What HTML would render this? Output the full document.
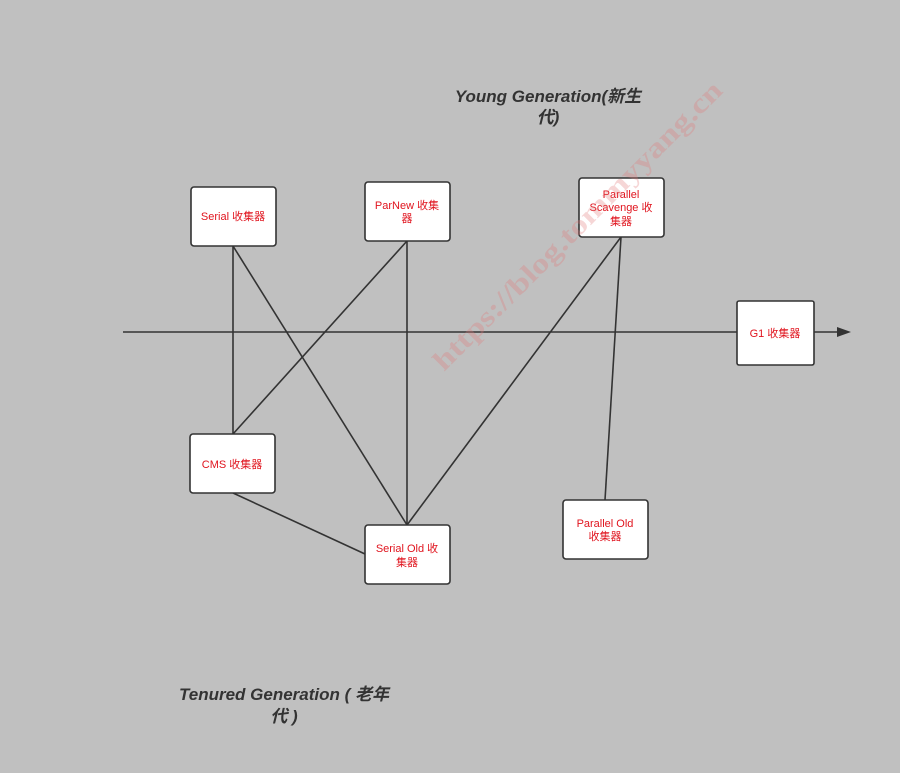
<!DOCTYPE html>
<html><head><meta charset="utf-8"><style>
html,body{margin:0;padding:0;background:#c0c0c0;}
svg{display:block;}
</style></head><body>
<svg width="900" height="773" viewBox="0 0 900 773" xmlns="http://www.w3.org/2000/svg">
<rect width="900" height="773" fill="#c0c0c0"/>
<g stroke="#333" stroke-width="1.6" fill="none">
<line x1="123" y1="332" x2="737" y2="332"/>
<line x1="814" y1="332" x2="840" y2="332"/>
<line x1="233" y1="246" x2="233" y2="434"/>
<line x1="233" y1="246" x2="407" y2="525"/>
<line x1="407" y1="241" x2="233" y2="434"/>
<line x1="407" y1="241" x2="407" y2="525"/>
<line x1="621" y1="237" x2="407" y2="525"/>
<line x1="621" y1="237" x2="605" y2="500"/>
<line x1="233" y1="493" x2="365" y2="554"/>
</g>
<polygon points="851,332 837,327 837,337" fill="#333"/>
<g fill="#fff" stroke="#333" stroke-width="1.6">
<rect x="191" y="187" width="85" height="59" rx="3"/>
<rect x="365" y="182" width="85" height="59" rx="3"/>
<rect x="579" y="178" width="85" height="59" rx="3"/>
<rect x="737" y="301" width="77" height="64" rx="2"/>
<rect x="190" y="434" width="85" height="59" rx="3"/>
<rect x="365" y="525" width="85" height="59" rx="3"/>
<rect x="563" y="500" width="85" height="59" rx="3"/>
</g>
<g fill="#e0141e" font-family="Liberation Sans, Noto Sans CJK SC, sans-serif" font-size="11" text-anchor="middle">
<text x="233" y="220">Serial 收集器</text>
<text x="407" y="209">ParNew 收集</text><text x="407" y="222">器</text>
<text x="621" y="198">Parallel</text><text x="621" y="211">Scavenge 收</text><text x="621" y="225">集器</text>
<text x="775" y="337">G1 收集器</text>
<text x="232" y="468">CMS 收集器</text>
<text x="407" y="552">Serial Old 收</text><text x="407" y="566">集器</text>
<text x="605" y="527">Parallel Old</text><text x="605" y="540">收集器</text>
</g>
<g fill="#333" font-family="Liberation Sans, Noto Sans CJK SC, sans-serif" font-size="17" font-weight="bold" font-style="italic" text-anchor="middle">
<text x="548" y="102">Young Generation(新生</text>
<text x="548" y="123">代)</text>
<text x="284" y="700">Tenured Generation ( 老年</text>
<text x="284" y="722">代 )</text>
</g>
<text x="0" y="0" transform="translate(444,372) rotate(-45)" font-family="Liberation Serif, serif" font-size="28" font-weight="bold" fill="#e07878" fill-opacity="0.3" textLength="396" lengthAdjust="spacingAndGlyphs">https://blog.tommyyang.cn</text>
</svg>
</body></html>
